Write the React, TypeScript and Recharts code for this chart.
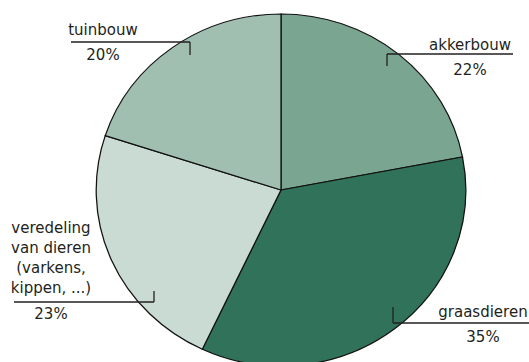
import React from 'react';
import { PieChart, Pie, Cell } from 'recharts';

const SECTORS = ['akkerbouw', 'graasdieren', 'veredeling van dieren (varkens, kippen, ...)', 'tuinbouw'];
const SHARES = [22, 35, 23, 20];
const LABEL_LINES = [['akkerbouw'], ['graasdieren'], ['veredeling', 'van dieren', '(varkens,', 'kippen, ...)'], ['tuinbouw']];
const COLORS = ['#79a591', '#31735a', '#c9dbd3', '#a0bfb0'];

// where each label sits: text centre, first baseline, leader line and tick
const LABEL_LAYOUT = [
  { tx: 470, ty: 50, ly: 54, x1: 387, x2: 513, tickX: 387, tickY: 66, py: 75 },
  { tx: 483, ty: 317, ly: 323, x1: 393, x2: 529, tickX: 393, tickY: 307, py: 342 },
  { tx: 51, ty: 233, ly: 302, x1: 14, x2: 154, tickX: 154, tickY: 291, py: 319 },
  { tx: 103, ty: 35, ly: 42, x1: 71, x2: 190, tickX: 190, tickY: 55, py: 60 },
];

const data = SECTORS.map((name, i) => ({ name, value: SHARES[i], lines: LABEL_LINES[i] }));

const CX = 281;
const CY = 190;

const renderLabel = (props: any) => {
  const { index, value } = props;
  const l = LABEL_LAYOUT[index];
  const lines: string[] = data[index].lines;
  return (
    <g key={`lbl-${index}`}>
      <text x={l.tx} y={l.ty} textAnchor="middle" fill="#231f20" fontSize={15} fontFamily="DejaVu Sans">
        {lines.map((t, k) => (
          <tspan key={k} x={l.tx} dy={k === 0 ? 0 : 20}>{t}</tspan>
        ))}
      </text>
      <line x1={l.x1} y1={l.ly} x2={l.x2} y2={l.ly} stroke="#231f20" strokeWidth={1.3} />
      <line x1={l.tickX} y1={l.ly} x2={l.tickX} y2={l.tickY} stroke="#231f20" strokeWidth={1.3} />
      <text x={l.tx} y={l.py} textAnchor="middle" fill="#231f20" fontSize={15} fontFamily="DejaVu Sans">
        {`${value}%`}
      </text>
    </g>
  );
};

export default function App() {
  return (
    <div style={{ position: 'absolute', left: 0, top: 0, width: 529, height: 362, background: '#fff' }}>
      <style>{`.recharts-pie-sector{transform:translate(${CX}px,${CY}px) scaleX(1.05) translate(-${CX}px,-${CY}px);}`}</style>
      <PieChart width={529} height={362} margin={{ top: 0, right: 0, bottom: 0, left: 0 }}>
        <Pie
          data={data}
          dataKey="value"
          nameKey="name"
          cx={CX}
          cy={CY}
          outerRadius={176}
          startAngle={90}
          endAngle={-270}
          stroke="#111"
          strokeWidth={1.2}
          label={renderLabel}
          labelLine={false}
          isAnimationActive={false}
        >
          {data.map((d, i) => (
            <Cell key={d.name} fill={COLORS[i]} />
          ))}
        </Pie>
      </PieChart>
    </div>
  );
}
